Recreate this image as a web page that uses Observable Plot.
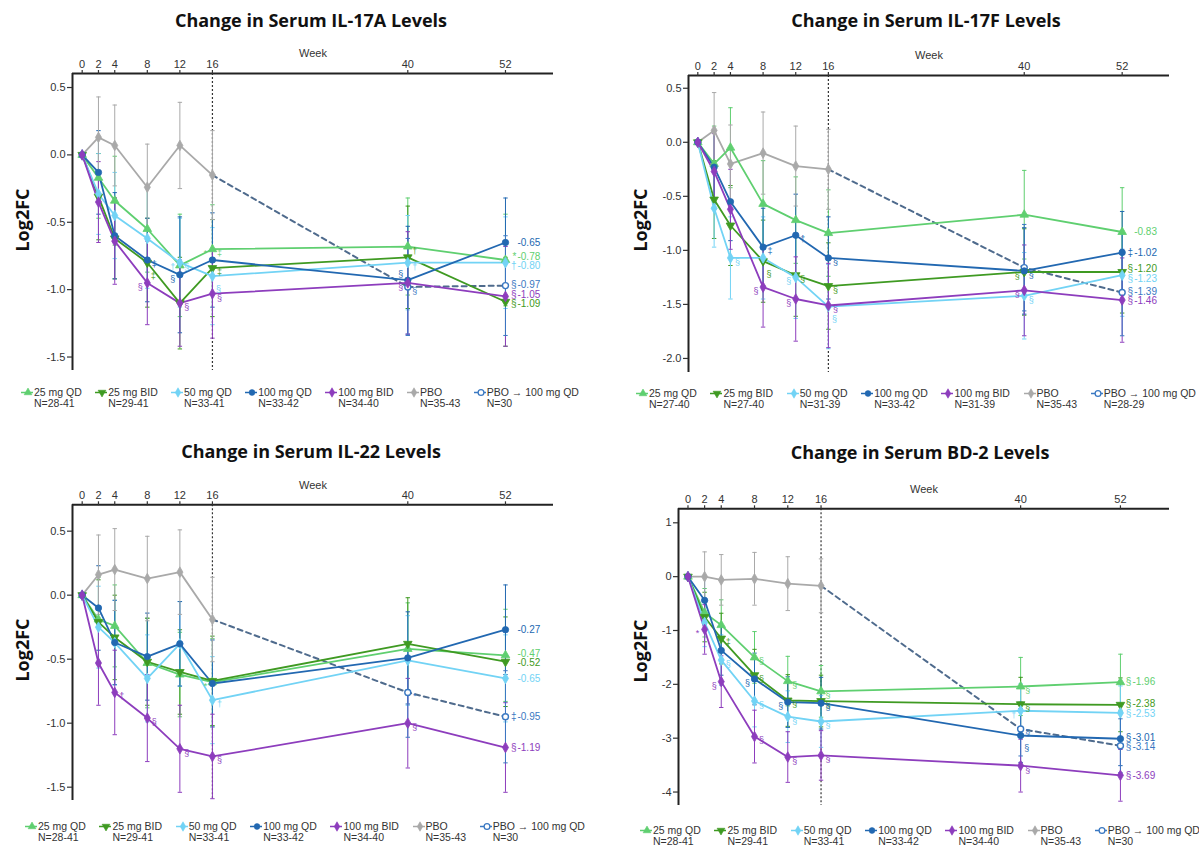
<!DOCTYPE html>
<html>
<head>
<meta charset="utf-8">
<script src="https://cdn.jsdelivr.net/npm/d3@7"></script>
<script src="https://cdn.jsdelivr.net/npm/@observablehq/plot@0.6"></script>
<style>
  html, body { margin: 0; padding: 0; background: #fff; }
  #page { position: relative; width: 1199px; height: 846px; overflow: hidden;
          font-family: "Liberation Sans", Arial, sans-serif; }
  .panel { position: absolute; width: 600px; height: 423px; }
  .title { position: absolute; transform: translate(-50%, -50%); white-space: nowrap;
           font-family: "Open Sans", Lato, sans-serif; font-weight: 700; font-size: 18px; color: #111; }
  .ylabel { position: absolute; transform: translate(-50%, -50%) rotate(-90deg); white-space: nowrap;
            font-family: "Open Sans", Lato, sans-serif; font-weight: 700; font-size: 18px; color: #111; }
  .legend { position: absolute; display: flex; justify-content: space-between;
            font-size: 10.5px; line-height: 10.5px; color: #333; }
  .item { display: flex; align-items: flex-start; }
  .item svg { flex: none; margin-right: 1px; }
</style>
</head>
<body>
<div id="page"></div>
<script>
// Treatment arms, in legend order
const arms = ["25 mg QD", "25 mg BID", "50 mg QD", "100 mg QD", "100 mg BID", "PBO", "PBO \u2192 100 mg QD"];
const armWeeks = [0, 2, 4, 8, 12, 16, 40, 52];
const pboWeeks = [0, 2, 4, 8, 12, 16];
const switchWeeks = [40, 52];
const weekTicks = [0, 2, 4, 8, 12, 16, 40, 52];

// ---- IL-17A (mean log2 fold change and error half-widths, one row per arm; PBO to week 16)
const il17aMean = [
  [0, -0.17, -0.34, -0.55, -0.82, -0.70, -0.68, -0.78],
  [0, -0.31, -0.62, -0.80, -1.10, -0.84, -0.76, -1.09],
  [0, -0.29, -0.45, -0.62, -0.80, -0.90, -0.80, -0.80],
  [0, -0.13, -0.60, -0.78, -0.89, -0.78, -0.93, -0.65],
  [0, -0.35, -0.64, -0.95, -1.10, -1.03, -0.95, -1.05],
  [0, 0.13, 0.07, -0.24, 0.07, -0.15]
];
const il17aErr = [
  [0, 0.30, 0.33, 0.32, 0.38, 0.33, 0.36, 0.34],
  [0, 0.32, 0.30, 0.33, 0.34, 0.36, 0.38, 0.33],
  [0, 0.30, 0.32, 0.37, 0.33, 0.36, 0.35, 0.34],
  [0, 0.31, 0.32, 0.31, 0.43, 0.35, 0.40, 0.33],
  [0, 0.30, 0.32, 0.31, 0.32, 0.33, 0.38, 0.37],
  [0, 0.30, 0.30, 0.32, 0.32, 0.33]
];
const il17aSwitch = [-0.98, -0.97];
const il17aSwitchErr = [0.36, 0.37];
const il17aN = ["N=28-41", "N=29-41", "N=33-41", "N=33-42", "N=34-40", "N=35-43", "N=30"];
const il17aEndMarks = ["*", "\u00a7", "\u2020", "", "\u00a7", "", "\u00a7"];
const il17aNotes = [
  [3, 8, "\u2021", "r"], [1, 8, "\u2021", "b"], [4, 8, "\u00a7", "l"],
  [2, 12, "\u2020", "l"], [2, 12, "\u00a7", "r"], [3, 12, "\u00a7", "l"], [4, 12, "\u00a7", "r"],
  [0, 16, "*", "l"], [0, 16, "\u2021", "r"], [1, 16, "\u2021", "r"], [2, 16, "\u00a7", "b"], [4, 16, "\u00a7", "r"],
  [1, 40, "\u2020", "ru"], [3, 40, "\u00a7", "lu"], [2, 40, "\u2020", "r"], [4, 40, "\u00a7", "l"], [6, 40, "\u00a7", "r"]
];

// ---- IL-17F
const il17fMean = [
  [0, -0.20, -0.05, -0.57, -0.72, -0.84, -0.67, -0.83],
  [0, -0.53, -0.77, -1.10, -1.23, -1.33, -1.20, -1.20],
  [0, -0.61, -1.07, -1.07, -1.25, -1.52, -1.42, -1.23],
  [0, -0.23, -0.55, -0.97, -0.86, -1.07, -1.19, -1.02],
  [0, -0.27, -0.62, -1.34, -1.45, -1.51, -1.37, -1.46],
  [0, 0.11, -0.20, -0.10, -0.22, -0.25]
];
const il17fErr = [
  [0, 0.35, 0.37, 0.40, 0.40, 0.40, 0.41, 0.41],
  [0, 0.36, 0.37, 0.38, 0.38, 0.40, 0.40, 0.38],
  [0, 0.36, 0.38, 0.38, 0.38, 0.39, 0.40, 0.38],
  [0, 0.34, 0.36, 0.36, 0.38, 0.38, 0.40, 0.38],
  [0, 0.35, 0.37, 0.37, 0.39, 0.39, 0.42, 0.39],
  [0, 0.35, 0.36, 0.38, 0.37, 0.37]
];
const il17fSwitch = [-1.16, -1.39];
const il17fSwitchErr = [0.40, 0.40];
const il17fN = ["N=27-40", "N=27-40", "N=31-39", "N=33-42", "N=31-39", "N=35-43", "N=28-29"];
const il17fEndMarks = ["", "\u00a7", "\u00a7", "\u2021", "\u00a7", "", "\u00a7"];
const il17fNotes = [
  [2, 4, "\u00a7", "r"],
  [3, 8, "\u2021", "r"], [1, 8, "\u00a7", "b"], [4, 8, "\u00a7", "l"],
  [3, 12, "\u2020", "r"], [1, 12, "\u00a7", "r"], [2, 12, "\u00a7", "l"], [4, 12, "\u00a7", "l"],
  [3, 16, "\u00a7", "r"], [1, 16, "\u00a7", "r"], [4, 16, "\u00a7", "r"], [2, 16, "\u00a7", "b"],
  [3, 40, "\u00a7", "r"], [1, 40, "\u00a7", "l"], [4, 40, "\u00a7", "l"], [2, 40, "\u00a7", "r"]
];

// ---- IL-22
const il22Mean = [
  [0, -0.19, -0.24, -0.53, -0.62, -0.68, -0.42, -0.47],
  [0, -0.21, -0.33, -0.52, -0.60, -0.67, -0.38, -0.52],
  [0, -0.25, -0.37, -0.65, -0.38, -0.82, -0.51, -0.65],
  [0, -0.10, -0.37, -0.48, -0.38, -0.69, -0.49, -0.27],
  [0, -0.53, -0.76, -0.96, -1.20, -1.26, -1.00, -1.19],
  [0, 0.16, 0.20, 0.13, 0.18, -0.19]
];
const il22Err = [
  [0, 0.33, 0.32, 0.35, 0.33, 0.34, 0.36, 0.36],
  [0, 0.33, 0.33, 0.34, 0.33, 0.35, 0.36, 0.35],
  [0, 0.32, 0.33, 0.34, 0.33, 0.34, 0.35, 0.34],
  [0, 0.33, 0.33, 0.34, 0.33, 0.34, 0.36, 0.35],
  [0, 0.33, 0.33, 0.34, 0.34, 0.33, 0.35, 0.35],
  [0, 0.31, 0.32, 0.33, 0.33, 0.33]
];
const il22Switch = [-0.76, -0.95];
const il22SwitchErr = [0.35, 0.36];
const il22N = ["N=28-41", "N=29-41", "N=33-41", "N=33-42", "N=34-40", "N=35-43", "N=30"];
const il22EndMarks = ["", "", "", "", "\u00a7", "", "\u2021"];
const il22Notes = [
  [4, 4, "\u2020", "r"], [4, 8, "\u00a7", "r"], [4, 12, "\u00a7", "r"], [4, 16, "\u00a7", "r"],
  [2, 16, "\u2020", "r"], [0, 16, "*", "l"], [4, 40, "\u00a7", "r"], [6, 40, "*", "r"]
];

// ---- BD-2
const bd2Mean = [
  [0, -0.67, -0.90, -1.50, -1.94, -2.13, -2.04, -1.96],
  [0, -0.75, -1.15, -1.83, -2.30, -2.31, -2.37, -2.38],
  [0, -0.85, -1.55, -2.31, -2.60, -2.69, -2.49, -2.53],
  [0, -0.44, -1.37, -1.90, -2.33, -2.35, -2.95, -3.01],
  [0, -0.98, -1.95, -2.97, -3.35, -3.32, -3.51, -3.69],
  [0, 0.00, -0.06, -0.04, -0.13, -0.17]
];
const bd2Err = [
  [0, 0.45, 0.47, 0.48, 0.46, 0.48, 0.54, 0.52],
  [0, 0.46, 0.47, 0.48, 0.48, 0.48, 0.50, 0.50],
  [0, 0.45, 0.47, 0.48, 0.48, 0.48, 0.50, 0.50],
  [0, 0.45, 0.46, 0.48, 0.47, 0.48, 0.50, 0.50],
  [0, 0.46, 0.48, 0.49, 0.47, 0.46, 0.49, 0.48],
  [0, 0.46, 0.47, 0.49, 0.50, 0.50]
];
const bd2Switch = [-2.83, -3.14];
const bd2SwitchErr = [0.50, 0.50];
const bd2N = ["N=28-41", "N=29-41", "N=33-41", "N=33-42", "N=34-40", "N=35-43", "N=30"];
const bd2EndMarks = ["\u00a7", "\u00a7", "\u00a7", "\u00a7", "\u00a7", "", "\u00a7"];
const bd2Notes = [
  [4, 2, "*", "l"], [4, 4, "\u00a7", "l"], [2, 4, "\u00a7", "r"], [1, 4, "\u2021", "r"],
  [0, 8, "\u00a7", "r"], [1, 8, "\u00a7", "r"], [3, 8, "\u00a7", "l"], [2, 8, "\u00a7", "r"], [4, 8, "\u00a7", "r"],
  [0, 12, "\u00a7", "r"], [1, 12, "\u00a7", "r"], [3, 12, "\u00a7", "l"], [2, 12, "\u00a7", "r"], [4, 12, "\u00a7", "r"],
  [0, 16, "\u00a7", "r"], [1, 16, "\u00a7", "r"], [3, 16, "\u00a7", "r"], [2, 16, "\u00a7", "r"], [4, 16, "\u00a7", "r"],
  [0, 40, "\u00a7", "r"], [1, 40, "\u00a7", "r"], [2, 40, "\u2020", "l"], [6, 40, "\u00a7", "r"], [3, 40, "\u00a7", "b"], [4, 40, "\u00a7", "r"]
];

// ---- styling
const colors = ["#5fcf70", "#3f9a22", "#72d3f5", "#2268b1", "#8d3dbd", "#a9a9a9", "#3a78c2"];
const switchLineColor = "#4f6b8d";
const triangleDown = {
  draw(context, size) {
    const s3 = Math.sqrt(3);
    const y = -Math.sqrt(size / (s3 * 3));
    context.moveTo(0, -y * 2);
    context.lineTo(-s3 * y, y);
    context.lineTo(s3 * y, y);
    context.closePath();
  }
};
const capSymbol = {
  draw(context, size) {
    const w = Math.sqrt(size / Math.PI);
    context.moveTo(-w, 0);
    context.lineTo(w, 0);
  }
};
const armSymbols = [d3.symbolTriangle, triangleDown, d3.symbolDiamond, d3.symbolCircle, d3.symbolDiamond, d3.symbolDiamond, d3.symbolCircle];
const armFills = [colors[0], colors[1], colors[2], colors[3], colors[4], colors[5], "#fff"];
// where a significance symbol sits relative to its point (px)
const noteOffsets = { r: [7, 4], l: [-7, 4], b: [6, 13], ru: [7, -6], lu: [-7, -6] };

const panels = [
  { title: "Change in Serum IL-17A Levels", mean: il17aMean, err: il17aErr, sw: il17aSwitch, swErr: il17aSwitchErr,
    ns: il17aN, endMarks: il17aEndMarks, notes: il17aNotes, yTicks: [0.5, 0, -0.5, -1, -1.5], fmt: d => d.toFixed(1),
    left: 0, top: 0, svgTop: 36, height: 340, marginTop: 37, marginBottom: 6, marginLeft: 72, marginRight: 47,
    xDomain: [-1.19, 57.9], yDomain: [-1.6, 0.604], titleX: 311, titleY: 20, ylabelX: 22, ylabelY: 220,
    legendX: 21, legendY: 387, legendW: 558 },
  { title: "Change in Serum IL-17F Levels", mean: il17fMean, err: il17fErr, sw: il17fSwitch, swErr: il17fSwitchErr,
    ns: il17fN, endMarks: il17fEndMarks, notes: il17fNotes, yTicks: [0.5, 0, -0.5, -1, -1.5, -2], fmt: d => d.toFixed(1),
    left: 600, top: 0, svgTop: 36, height: 340, marginTop: 39, marginBottom: 4, marginLeft: 88, marginRight: 31,
    xDomain: [-1.14, 57.8], yDomain: [-2.13, 0.618], titleX: 326, titleY: 20, ylabelX: 40, ylabelY: 220,
    legendX: 36, legendY: 388, legendW: 560 },
  { title: "Change in Serum IL-22 Levels", mean: il22Mean, err: il22Err, sw: il22Switch, swErr: il22SwitchErr,
    ns: il22N, endMarks: il22EndMarks, notes: il22Notes, yTicks: [0.5, 0, -0.5, -1, -1.5], fmt: d => d.toFixed(1),
    left: 0, top: 420, svgTop: 48, height: 338, marginTop: 36.3, marginBottom: 6, marginLeft: 72, marginRight: 47,
    xDomain: [-1.19, 57.9], yDomain: [-1.604, 0.706], titleX: 311, titleY: 31, ylabelX: 22, ylabelY: 230,
    legendX: 25, legendY: 401, legendW: 560 },
  { title: "Change in Serum BD-2 Levels", mean: bd2Mean, err: bd2Err, sw: bd2Switch, swErr: bd2SwitchErr,
    ns: bd2N, endMarks: bd2EndMarks, notes: bd2Notes, yTicks: [1, 0, -1, -2, -3, -4], fmt: d => `${d}`,
    left: 600, top: 420, svgTop: 50, height: 339, marginTop: 38.3, marginBottom: 4, marginLeft: 78, marginRight: 31,
    xDomain: [-1.14, 57.9], yDomain: [-4.25, 1.26], titleX: 320, titleY: 32, ylabelX: 40, ylabelY: 231,
    legendX: 40, legendY: 405, legendW: 560 }
];

function seriesRows(p, i) {
  if (i === 6) return switchWeeks.map((w, j) => ({ arm: i, week: w, value: p.sw[j], err: p.swErr[j] }));
  const ws = i === 5 ? pboWeeks : armWeeks;
  return ws.map((w, j) => ({ arm: i, week: w, value: p.mean[i][j], err: p.err[i][j] }));
}

function drawPanel(p) {
  const panel = d3.select("#page").append("div").attr("class", "panel")
    .style("left", p.left + "px").style("top", p.top + "px");

  const series = arms.map((_, i) => seriesRows(p, i));
  const pbo = series[5];
  // the switch arm continues from the placebo value at week 16
  const switchPath = [pbo[pbo.length - 1], ...series[6]];

  const errorMarks = series.map((rows, i) => {
    const withErr = rows.filter(d => d.err > 0);
    const caps = withErr.flatMap(d => [{ ...d, y: d.value - d.err }, { ...d, y: d.value + d.err }]);
    return [
      Plot.ruleX(withErr, { x: "week", y1: d => d.value - d.err, y2: d => d.value + d.err, stroke: colors[i], strokeWidth: 1 }),
      Plot.dot(caps, { x: "week", y: "y", symbol: capSymbol, r: 2.2, stroke: colors[i], strokeWidth: 1 })
    ];
  });

  const drawOrder = [5, 6, 0, 1, 2, 3, 4];
  const lineMarks = drawOrder.map(i => i === 6
    ? Plot.line(switchPath, { x: "week", y: "value", stroke: switchLineColor, strokeWidth: 2, strokeDasharray: "5,4" })
    : Plot.line(series[i], { x: "week", y: "value", stroke: colors[i], strokeWidth: 1.8 }));
  const dotMarks = drawOrder.map(i => Plot.dot(series[i], {
    x: "week", y: "value", symbol: armSymbols[i], r: i === 6 ? 3 : 3.2,
    fill: armFills[i], stroke: colors[i], strokeWidth: i === 6 ? 1.4 : 0.8
  }));

  // value labels at the last visit, nudged apart where they would collide
  const frameH = p.height - p.marginTop - p.marginBottom;
  const ppu = frameH / (p.yDomain[1] - p.yDomain[0]);
  const ends = [0, 1, 2, 3, 4, 6].map(i => {
    const last = series[i][series[i].length - 1];
    return { arm: i, week: last.week, value: last.value, mark: p.endMarks[i], py: -last.value * ppu };
  });
  const gap = 9.5;
  for (let k = 0; k < 200; k++) {
    ends.sort((a, b) => a.py - b.py);
    let moved = false;
    for (let j = 1; j < ends.length; j++) {
      const d = ends[j].py - ends[j - 1].py;
      if (d < gap - 0.01) { const s = (gap - d) / 2; ends[j].py += s; ends[j - 1].py -= s; moved = true; }
    }
    if (!moved) break;
  }
  const endMarks = ends.flatMap(e => {
    const dy = e.py + e.value * ppu;
    return [
      Plot.text([e], { x: "week", y: "value", text: d => d.value.toFixed(2), dx: 12, dy, textAnchor: "start", fill: colors[e.arm], fontSize: 10 }),
      Plot.text([e], { x: "week", y: "value", text: "mark", dx: 11, dy, textAnchor: "end", fill: colors[e.arm], fontSize: 10 })
    ];
  });

  // significance symbols beside individual visits
  const noteRows = p.notes.map(([arm, week, mark, side]) => {
    const row = series[arm].find(d => d.week === week);
    return { arm, week, value: row.value, mark, side };
  });
  const noteMarks = Object.keys(noteOffsets).flatMap(side => arms.map((_, i) => {
    const rows = noteRows.filter(d => d.side === side && d.arm === i);
    if (!rows.length) return null;
    const [dx, dy] = noteOffsets[side];
    return Plot.text(rows, { x: "week", y: "value", text: "mark", dx, dy, fill: colors[i], fontSize: 9 });
  })).filter(Boolean);

  const svg = Plot.plot({
    width: 600,
    height: p.height,
    marginTop: p.marginTop,
    marginBottom: p.marginBottom,
    marginLeft: p.marginLeft,
    marginRight: p.marginRight,
    x: { domain: p.xDomain, label: null },
    y: { domain: p.yDomain, label: null },
    style: { background: "none", color: "#333", fontFamily: "'Liberation Sans', Arial, sans-serif", fontSize: "11px", overflow: "visible" },
    marks: [
      Plot.ruleX([16], { stroke: "#333", strokeWidth: 1.2, strokeDasharray: "2,2" }),
      errorMarks,
      lineMarks,
      dotMarks,
      endMarks,
      noteMarks,
      Plot.ruleY([p.yDomain[1]], { stroke: "#222", strokeWidth: 2 }),
      Plot.ruleX([p.xDomain[0]], { stroke: "#222", strokeWidth: 2 }),
      Plot.axisX({ anchor: "top", ticks: weekTicks, tickFormat: d => `${d}`, tickSize: 4, tickPadding: 2, fontSize: 11, label: null, strokeWidth: 1.2 }),
      Plot.axisY({ anchor: "left", ticks: p.yTicks, tickFormat: p.fmt, tickSize: 5, tickPadding: 2, fontSize: 11, label: null, strokeWidth: 1.2 }),
      Plot.text(["Week"], { frameAnchor: "top", dy: -24, text: d => d, fontSize: 11, fill: "#333" })
    ]
  });
  svg.style.position = "absolute";
  svg.style.left = "0px";
  svg.style.top = p.svgTop + "px";
  panel.node().appendChild(svg);

  panel.append("div").attr("class", "title")
    .style("left", p.titleX + "px").style("top", p.titleY + "px").text(p.title);
  panel.append("div").attr("class", "ylabel")
    .style("left", p.ylabelX + "px").style("top", p.ylabelY + "px").text("Log2FC");

  const legend = panel.append("div").attr("class", "legend")
    .style("left", p.legendX + "px").style("top", p.legendY + "px").style("width", p.legendW + "px");
  arms.forEach((arm, i) => {
    const item = legend.append("div").attr("class", "item");
    const sw = item.append("svg").attr("width", 12).attr("height", 11);
    sw.append("line").attr("x1", 0).attr("x2", 12).attr("y1", 5.5).attr("y2", 5.5)
      .attr("stroke", colors[i]).attr("stroke-width", 1.5);
    sw.append("path").attr("transform", "translate(7,5.5)")
      .attr("d", d3.symbol(armSymbols[i], 26)())
      .attr("fill", armFills[i]).attr("stroke", colors[i]).attr("stroke-width", i === 6 ? 1.3 : 0.6);
    const text = item.append("div");
    text.append("div").text(arm);
    text.append("div").text(p.ns[i]);
  });
}

panels.forEach(drawPanel);
</script>
</body>
</html>
